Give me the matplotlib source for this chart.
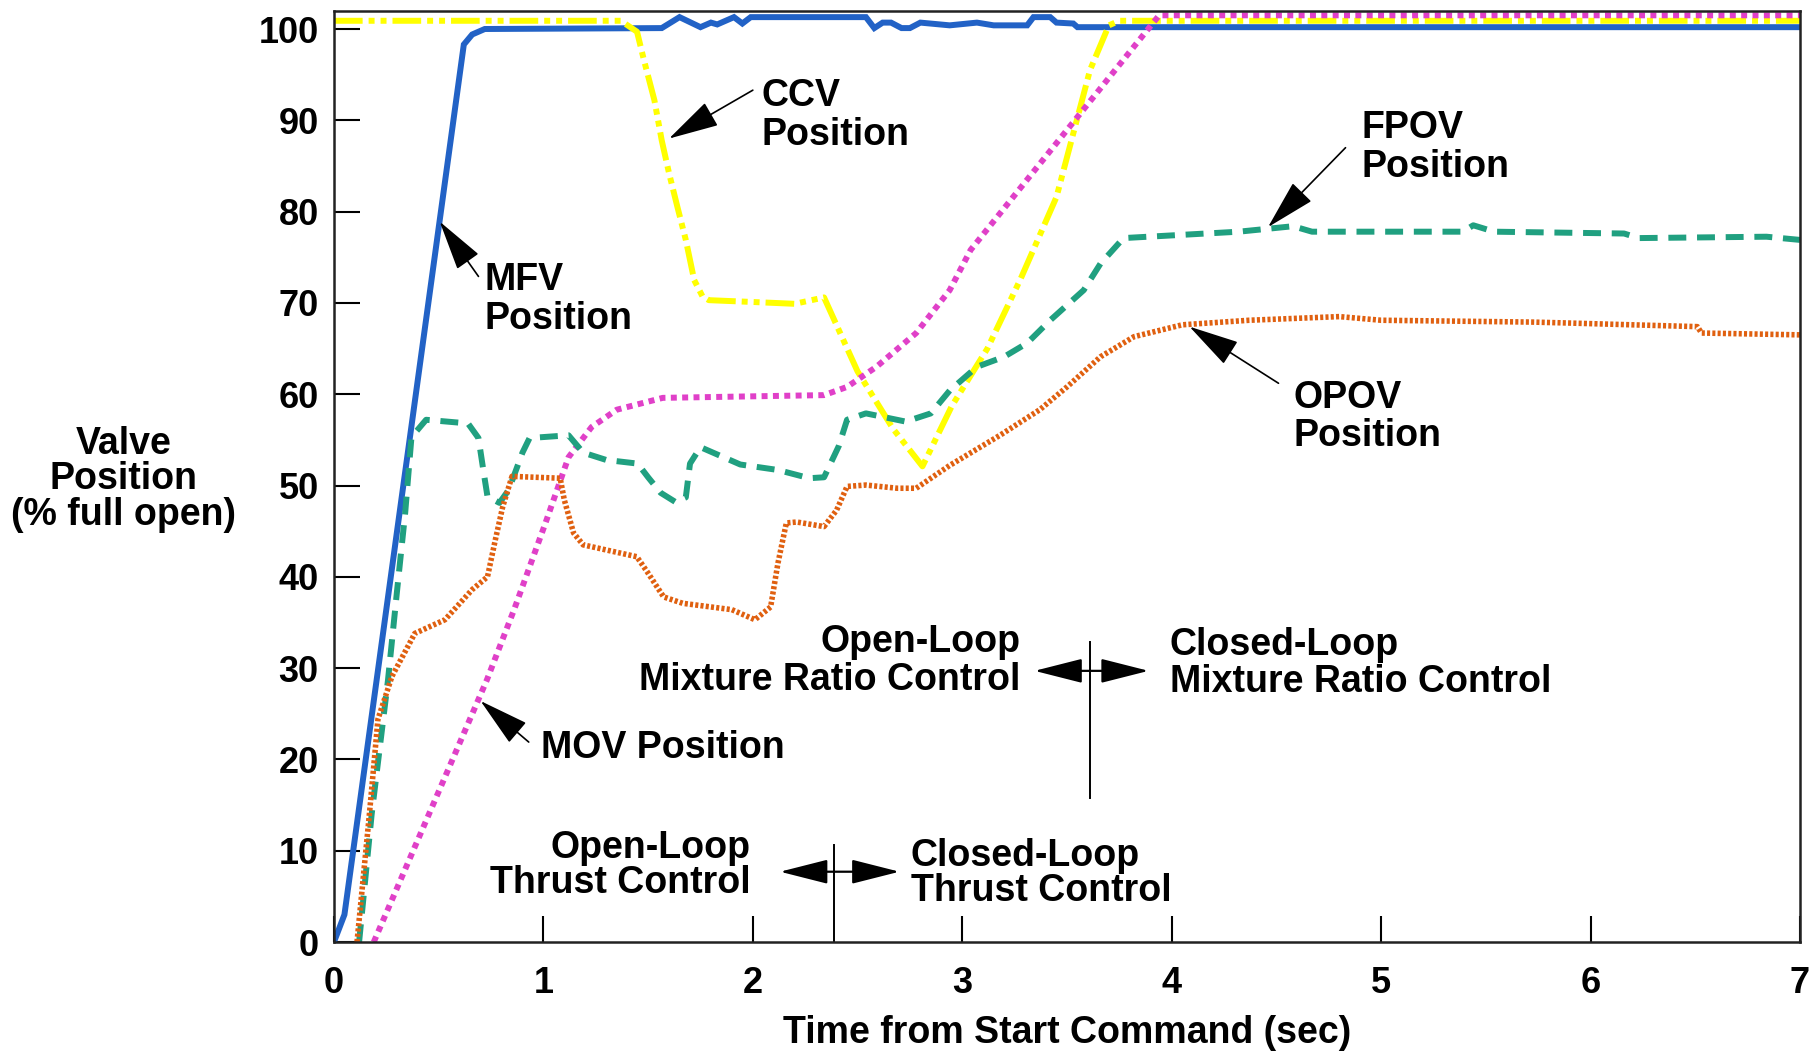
import matplotlib
matplotlib.use("Agg")
import matplotlib.pyplot as plt

plt.rcParams['font.family'] = ['Liberation Sans', 'DejaVu Sans']
plt.rcParams['font.weight'] = 'bold'
FS = 26
TS = 27

# MFV position (solid blue)
mfv_t = [0, 0.05, 0.62, 0.66, 0.72, 1.565, 1.65, 1.75, 1.80, 1.83, 1.91, 1.95, 1.99, 2.54, 2.58,
         2.62, 2.66, 2.71, 2.75, 2.80, 2.94, 3.07, 3.15, 3.31, 3.34, 3.42, 3.45, 3.53, 3.55, 7.0]
mfv_y = [0, 3, 98.3, 99.4, 100.0, 100.1, 101.3, 100.2, 100.7, 100.5, 101.3, 100.6, 101.3, 101.3, 100.1,
         100.7, 100.7, 100.1, 100.1, 100.7, 100.4, 100.7, 100.4, 100.4, 101.3, 101.3, 100.7, 100.6, 100.2, 100.2]

# CCV position (yellow dash-dot)
ccv_t = [0, 1.37, 1.447, 1.48, 1.53, 1.565, 1.60, 1.64, 1.68, 1.72, 1.76, 1.79, 2.0, 2.2, 2.34,
         2.5, 2.67, 2.81, 2.95, 3.12, 3.28, 3.45, 3.61, 3.70, 3.75, 7.0]
ccv_y = [100.9, 100.9, 99.7, 96.6, 92.2, 87.8, 84.2, 80.5, 76.9, 72.5, 70.7, 70.3, 70.1, 69.9, 70.6,
         62.5, 56.2, 52.1, 58.7, 65.0, 72.7, 81.6, 95.5, 100.4, 100.9, 100.9]

# MOV position (magenta dotted)
mov_t = [0.19, 0.73, 0.86, 1.01, 1.12, 1.23, 1.35, 1.57, 2.34, 2.45, 2.59, 2.78, 2.94, 3.04, 3.94, 7.0]
mov_y = [0, 28.7, 36.4, 45.9, 53.1, 56.4, 58.3, 59.6, 59.9, 60.8, 63.0, 66.7, 71.4, 75.8, 101.5, 101.5]

# FPOV position (teal dashed)
fpov_t = [0.12, 0.18, 0.258, 0.30, 0.34, 0.37, 0.44, 0.64, 0.69, 0.715, 0.733, 0.79, 0.834, 0.90, 0.934,
          1.12, 1.19, 1.30, 1.45, 1.50, 1.56, 1.63, 1.68, 1.70, 1.75, 1.81, 1.94, 2.12, 2.27, 2.34,
          2.41, 2.45, 2.54, 2.73, 2.85, 2.94, 3.07, 3.20, 3.31, 3.42, 3.58, 3.66, 3.77, 4.32, 4.58,
          4.67, 5.39, 5.44, 5.54, 6.16, 6.23, 6.84, 7.0]
fpov_y = [0, 14, 28.7, 38.2, 47.0, 55.3, 57.2, 56.8, 55.2, 51.4, 48.8, 48.1, 49.5, 53.6, 55.2,
          55.5, 53.6, 52.8, 52.4, 50.9, 49.2, 48.2, 48.7, 52.4, 54.2, 53.6, 52.3, 51.7, 50.8, 50.9,
          54.3, 57.2, 57.9, 57.0, 57.9, 60.4, 63.0, 64.1, 65.6, 68.1, 71.4, 74.3, 77.1, 77.8, 78.4,
          77.8, 77.8, 78.5, 77.8, 77.6, 77.1, 77.25, 76.9]

# OPOV position (orange fine dotted)
opov_t = [0.11, 0.17, 0.21, 0.277, 0.386, 0.53, 0.66, 0.733, 0.77, 0.806, 0.85, 1.08, 1.10, 1.144, 1.19,
          1.446, 1.50, 1.574, 1.665, 1.90, 2.01, 2.085, 2.12, 2.16, 2.21, 2.34, 2.40, 2.45, 2.54, 2.69,
          2.78, 2.94, 3.18, 3.37, 3.50, 3.66, 3.82, 4.05, 4.37, 4.80, 5.0, 5.72, 5.89, 6.51, 6.53, 7.0]
opov_y = [0, 14.2, 24.4, 29.1, 33.8, 35.3, 38.6, 40.0, 44.0, 47.7, 51.0, 50.8, 48.4, 44.8, 43.5,
          42.2, 40.4, 37.8, 37.1, 36.4, 35.3, 36.7, 41.5, 45.9, 46.0, 45.5, 47.3, 49.9, 50.05, 49.7,
          49.7, 52.2, 55.5, 58.3, 60.8, 64.1, 66.3, 67.6, 68.1, 68.5, 68.1, 67.9, 67.8, 67.4, 66.7, 66.5]

x_ticks = [0, 1, 2, 3, 4, 5, 6, 7]
y_ticks = [0, 10, 20, 30, 40, 50, 60, 70, 80, 90, 100]

fig = plt.figure(figsize=(18.2, 10.53), dpi=100)
ax = fig.add_axes([0.1835, 0.1054, 0.8055, 0.8844])

ax.plot(mfv_t, mfv_y, color='#2262C6', lw=4.3, solid_joinstyle='miter')
ax.plot(ccv_t, ccv_y, color='#FFFF00', lw=4.3, dashes=(4.8, 1.0, 1.0, 1.0, 1.0, 1.0))
ax.plot(mov_t, mov_y, color='#E040C8', lw=4.3, dashes=(1.0, 0.9))
ax.plot(fpov_t, fpov_y, color='#20A080', lw=4.3, dashes=(3.0, 1.8))
ax.plot(opov_t, opov_y, color='#E06010', lw=4.0, dashes=(0.55, 0.4))

ax.set_xlim(0, 7)
ax.set_ylim(0, 102)
ax.set_xticks(x_ticks)
ax.set_yticks(y_ticks)
ax.tick_params(direction='in', length=19, width=1.5, labelsize=FS, color='black')
ax.tick_params(axis='x', pad=17)
ax.tick_params(axis='y', pad=11)
for lab in ax.get_xticklabels() + ax.get_yticklabels():
    lab.set_fontweight('bold')
for sp in ax.spines.values():
    sp.set_linewidth(1.8)
    sp.set_color('#222222')

ax.set_xlabel('Time from Start Command (sec)', fontsize=TS, fontweight='bold', labelpad=10)
fig.text(0.068, 0.545, 'Valve\nPosition\n(% full open)', fontsize=TS, fontweight='bold',
         ha='center', va='center', linespacing=0.98)

head = dict(arrowstyle='-|>,head_length=1.6,head_width=0.42', color='black', lw=1.2,
            mutation_scale=20, shrinkA=0, shrinkB=0)

# labels with pointer arrows: (text, text xy, ha, arrow head, arrow tail)
labels = [
    ('CCV\nPosition', (2.04, 90.5), 'left', (1.60, 88.0), (2.0, 93.3)),
    ('MFV\nPosition', (0.72, 70.4), 'left', (0.505, 78.9), (0.69, 72.9)),
    ('FPOV\nPosition', (4.905, 87.0), 'left', (4.46, 78.3), (4.83, 87.0)),
    ('OPOV\nPosition', (4.58, 57.5), 'left', (4.085, 67.4), (4.51, 61.2)),
    ('MOV Position', (0.987, 21.2), 'left', (0.70, 26.4), (0.93, 21.9)),
]
for txt, pos, ha, tip, tail in labels:
    ax.text(pos[0], pos[1], txt, fontsize=TS, fontweight='bold', ha=ha, va='center', linespacing=1.1)
    ax.annotate('', xy=tip, xytext=tail, arrowprops=head)

# control-mode boundaries
ax.plot([3.61, 3.61], [15.8, 32.9], color='black', lw=1.4)
ax.plot([2.387, 2.387], [0, 10.6], color='black', lw=1.4)
side = dict(arrowstyle='-|>,head_length=1.5,head_width=0.38', color='black', lw=1.6,
            mutation_scale=20, shrinkA=0, shrinkB=0)
ax.annotate('', xy=(3.345, 29.7), xytext=(3.61, 29.7), arrowprops=side)
ax.annotate('', xy=(3.89, 29.7), xytext=(3.61, 29.7), arrowprops=side)
ax.annotate('', xy=(2.13, 7.7), xytext=(2.387, 7.7), arrowprops=side)
ax.annotate('', xy=(2.70, 7.7), xytext=(2.387, 7.7), arrowprops=side)

ax.text(3.276, 30.8, 'Open-Loop\nMixture Ratio Control', fontsize=TS, fontweight='bold',
        ha='right', va='center', multialignment='right', linespacing=1.06)
ax.text(3.99, 30.5, 'Closed-Loop\nMixture Ratio Control', fontsize=TS, fontweight='bold',
        ha='left', va='center', linespacing=1.06)
ax.text(1.99, 8.4, 'Open-Loop\nThrust Control', fontsize=TS, fontweight='bold',
        ha='right', va='center', multialignment='right', linespacing=0.97)
ax.text(2.755, 7.5, 'Closed-Loop\nThrust Control', fontsize=TS, fontweight='bold',
        ha='left', va='center', linespacing=0.97)

fig.savefig('out.png', dpi=100)
